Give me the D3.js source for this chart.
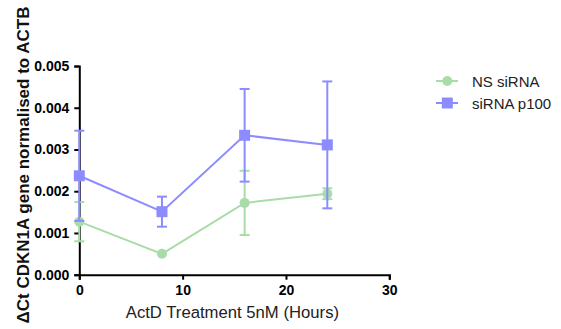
<!DOCTYPE html>
<html><head><meta charset="utf-8">
<script src="https://cdn.jsdelivr.net/npm/d3@7"></script>
<style>body{margin:0;background:#fff}svg{display:block}</style>
</head><body>
<script>
const hours = [0, 8, 16, 24];
const nsMean = [0.00127, 0.00050, 0.00172, 0.00194];
const nsErr  = [0.00047, 0.00000, 0.00077, 0.00013];
const p100Mean = [0.00237, 0.00151, 0.00334, 0.00311];
const p100Err  = [0.00108, 0.00036, 0.00111, 0.00152];
const yTicks = [0, 0.001, 0.002, 0.003, 0.004, 0.005];
const xTicks = [0, 10, 20, 30];
const seriesNames = ["NS siRNA", "siRNA p100"];
const colors = ["#a8dca8", "#8c8cff"];

const W = 561, H = 329;
const svg = d3.select("body").append("svg").attr("width", W).attr("height", H);
const x = d3.scaleLinear().domain([0, 30]).range([79.3, 389.3]);
const y = d3.scaleLinear().domain([0, 0.005]).range([274.7, 66]);

const font = "Liberation Sans, Arial, sans-serif";

const xa = svg.append("g").attr("transform", `translate(0,${y(0)})`)
  .call(d3.axisBottom(x).tickValues(xTicks).tickFormat(d3.format("d")).tickSize(5).tickPadding(5));
const ya = svg.append("g").attr("transform", `translate(${x(0)},0)`)
  .call(d3.axisLeft(y).tickValues(yTicks).tickFormat(d3.format(".3f")).tickSize(5).tickPadding(5));
[xa, ya].forEach(a => {
  a.select(".domain").attr("stroke", "#000").attr("stroke-width", 2);
  a.selectAll(".tick line").attr("stroke", "#000").attr("stroke-width", 2);
  a.selectAll(".tick text").attr("fill", "#000").style("font-family", font)
    .style("font-size", "14px").style("font-weight", "bold");
});

const series = [
  {name: seriesNames[0], mean: nsMean, err: nsErr, color: colors[0], shape: "circle"},
  {name: seriesNames[1], mean: p100Mean, err: p100Err, color: colors[1], shape: "square"}
];

series.forEach(s => {
  const g = svg.append("g");
  const pts = hours.map((h, i) => ({h, m: s.mean[i], e: s.err[i]}));
  pts.filter(p => p.e > 0).forEach(p => {
    g.append("line").attr("x1", x(p.h)).attr("x2", x(p.h)).attr("y1", y(p.m - p.e)).attr("y2", y(p.m + p.e))
      .attr("stroke", s.color).attr("stroke-width", 2);
    [p.m - p.e, p.m + p.e].forEach(v => {
      g.append("line").attr("x1", x(p.h) - 5).attr("x2", x(p.h) + 5).attr("y1", y(v)).attr("y2", y(v))
        .attr("stroke", s.color).attr("stroke-width", 2);
    });
  });
  g.append("path").datum(pts)
    .attr("d", d3.line().x(p => x(p.h)).y(p => y(p.m)))
    .attr("fill", "none").attr("stroke", s.color).attr("stroke-width", 2);
  pts.forEach(p => {
    if (s.shape === "circle") g.append("circle").attr("cx", x(p.h)).attr("cy", y(p.m)).attr("r", 5).attr("fill", s.color);
    else g.append("rect").attr("x", x(p.h) - 5.5).attr("y", y(p.m) - 5.5).attr("width", 11).attr("height", 11).attr("fill", s.color);
  });
});

// legend
series.forEach((s, i) => {
  const ly = 81 + i * 22;
  const g = svg.append("g");
  g.append("line").attr("x1", 436).attr("x2", 458).attr("y1", ly).attr("y2", ly).attr("stroke", s.color).attr("stroke-width", 2);
  if (s.shape === "circle") g.append("circle").attr("cx", 447.3).attr("cy", ly).attr("r", 5).attr("fill", s.color);
  else g.append("rect").attr("x", 441.8).attr("y", ly - 5.5).attr("width", 11).attr("height", 11).attr("fill", s.color);
  g.append("text").attr("x", 472).attr("y", ly + 5.5).text(s.name)
    .style("font-family", font).style("font-size", "15px").attr("fill", "#222");
});

// axis titles
svg.append("text").attr("x", 232.4).attr("y", 318).attr("text-anchor", "middle")
  .style("font-family", font).style("font-size", "16.7px").attr("fill", "#222")
  .text("ActD Treatment 5nM (Hours)");
svg.append("text").attr("transform", `translate(28.5,165) rotate(-90)`).attr("text-anchor", "middle")
  .style("font-family", font).style("font-size", "17px").style("font-weight", "bold").attr("fill", "#111")
  .text("ΔCt CDKN1A gene normalised to ACTB");
</script>
</body></html>
